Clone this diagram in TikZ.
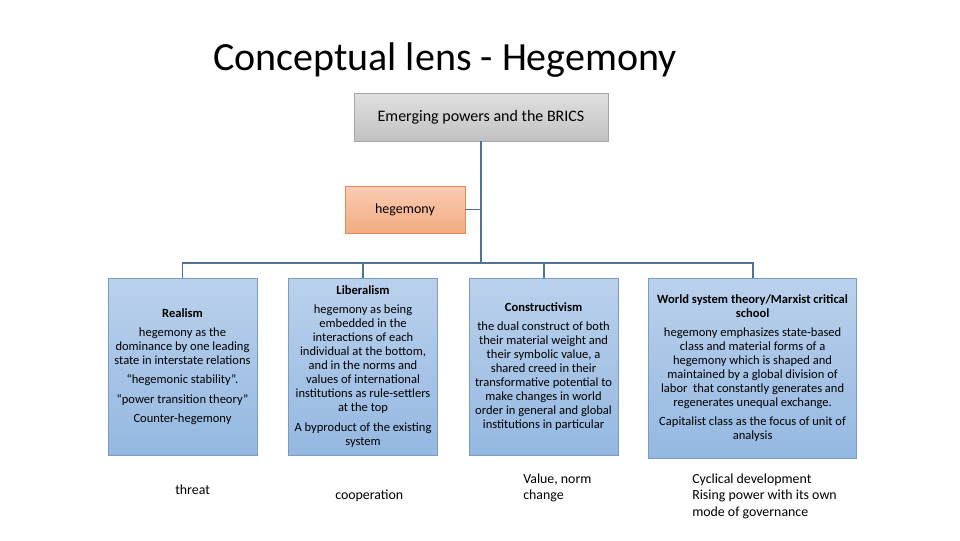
\documentclass[tikz,border=0pt]{standalone}
\usepackage{fontspec}
\setmainfont{Carlito}
\usetikzlibrary{positioning}
\definecolor{linkblue}{HTML}{4E7396}
\definecolor{boxedge}{HTML}{7A9CC6}
\definecolor{boxtop}{HTML}{BAD1EC}
\definecolor{boxbottom}{HTML}{95B8E1}
\definecolor{grayedge}{HTML}{A6A6A6}
\definecolor{graytop}{HTML}{E0E0E0}
\definecolor{graybottom}{HTML}{C2C2C2}
\definecolor{orangeedge}{HTML}{E08A5A}
\definecolor{orangetop}{HTML}{FACDB3}
\definecolor{orangebottom}{HTML}{F3AB82}

\begin{document}
\begin{tikzpicture}[
    x=0.75pt, y=-0.75pt,
    node distance=23.25pt,
    every node/.style={font=\fontsize{9.4}{10.5}\selectfont},
    school_box/.style={
        rectangle,
        draw=boxedge,
        top color=boxtop,
        bottom color=boxbottom,
        minimum width=111.75pt,
        minimum height=132.75pt,
        inner sep=1pt,
        align=center
    },
    head_box/.style={
        rectangle,
        draw=grayedge,
        top color=graytop,
        bottom color=graybottom,
        minimum width=190.5pt,
        minimum height=36pt,
        font=\fontsize{12}{14}\selectfont
    },
    lens_box/.style={
        rectangle,
        draw=orangeedge,
        top color=orangetop,
        bottom color=orangebottom,
        minimum width=90pt,
        minimum height=35.25pt,
        font=\fontsize{10.5}{12}\selectfont
    },
    note/.style={anchor=west, align=left, inner sep=0pt, font=\fontsize{10.4}{12.4}\selectfont},
    link/.style={line width=1.4pt, color=linkblue}
]
\useasboundingbox (0,0) rectangle (960,540);

\node[font=\fontsize{30}{34}\selectfont] (title) at (445,60) {Conceptual lens - Hegemony};

\node[head_box] (brics) at (481,117) {Emerging powers and the BRICS};
\node[lens_box] (hegemony) at (405,209.5) {hegemony};

\node[school_box] (realism) at (182.5,366.5) {\textbf{Realism}\\[4pt]
    hegemony as the\\ dominance by one leading\\ state in interstate relations\\[4pt]
    ``hegemonic stability''.\\[4pt]
    ``power transition theory''\\[4pt]
    Counter-hegemony};
\node[school_box, right=of realism] (liberalism) {\textbf{Liberalism}\\[4pt]
    hegemony as being\\ embedded in the\\ interactions of each\\ individual at the bottom,\\
    and in the norms and\\ values of international\\ institutions as rule-settlers\\ at the top\\[4pt]
    A byproduct of the existing\\ system};
\node[school_box, right=of liberalism] (constructivism) {\textbf{Constructivism}\\[4pt]
    the dual construct of both\\ their material weight and\\ their symbolic value, a\\ shared creed in their\\
    transformative potential to\\ make changes in world\\ order in general and global\\ institutions in particular};
\node[school_box, right=22.5pt of constructivism.north east, anchor=north west,
      minimum width=156pt, minimum height=135pt] (world) {\textbf{World system theory/Marxist critical}\\ \textbf{school}\\[4pt]
    hegemony emphasizes state-based\\ class and material forms of a\\ hegemony which is shaped and\\
    maintained by a global division of\\ labor\ \ that constantly generates and\\ regenerates unequal exchange.\\[4pt]
    Capitalist class as the focus of unit of\\ analysis};

% outcomes under each school
\node[note] (threat) at (175,490) {threat};
\node[note] (coop) at (335,496) {cooperation};
\node[note] (norm) at (523,488) {Value, norm\\ change};
\node[note] (cycle) at (692,496) {Cyclical development\\ Rising power with its own\\ mode of governance};

% tree connectors
\coordinate (bus) at (481,263);
\draw[link] (brics.south) -- (bus);
\draw[link] (hegemony.east) -- (hegemony.east -| brics.south);
\draw[link] (bus) -| (realism.north);
\draw[link] (bus) -| (liberalism.north);
\draw[link] (bus) -| (constructivism.north);
\draw[link] (bus) -| (world.north);

\end{tikzpicture}
\end{document}
